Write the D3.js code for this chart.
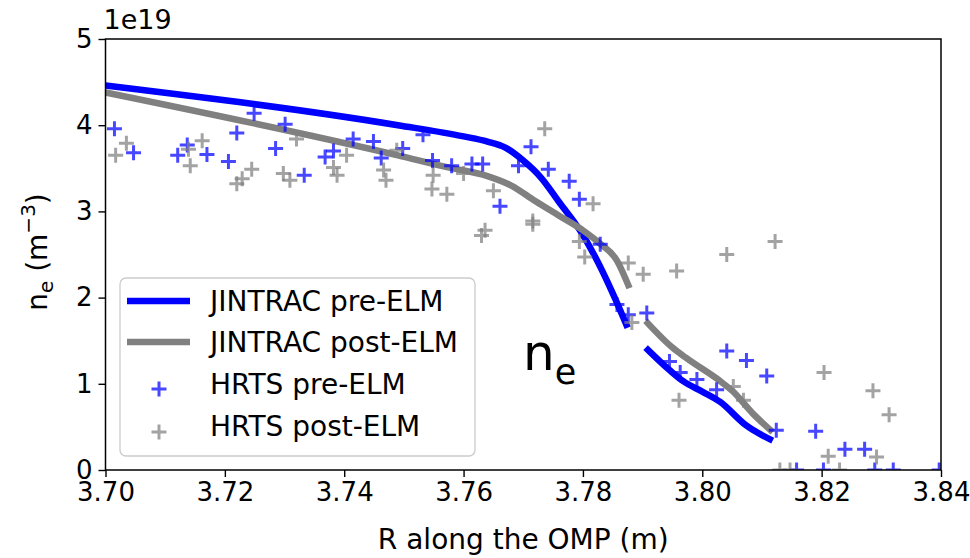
<!DOCTYPE html>
<html>
<head>
<meta charset="utf-8">
<script src="https://cdn.jsdelivr.net/npm/d3@7"></script>
<style>
  body { margin: 0; background: #ffffff; }
  svg { display: block; }
  text { font-family: "DejaVu Sans", sans-serif; fill: #000; }
</style>
</head>
<body>
<svg id="chart" width="970" height="558"></svg>
<script>
// Density profiles along the outer midplane, n_e in units of 1e19 m^-3.
// null splits a model curve into its two computed segments.
const xTicks = [3.70, 3.72, 3.74, 3.76, 3.78, 3.80, 3.82, 3.84];
const yTicks = [0, 1, 2, 3, 4, 5];

const jintracPre = [
  [3.700, 4.46], [3.7490, 4.00], [3.7600, 3.87], [3.7640, 3.81], [3.7670, 3.74],
  [3.7700, 3.59], [3.7730, 3.39], [3.7761, 3.10], [3.7795, 2.78], [3.7820, 2.48],
  [3.7850, 2.05], [3.7875, 1.65],
  null,
  [3.7905, 1.42], [3.7945, 1.16], [3.7968, 1.03], [3.8000, 0.91], [3.8030, 0.79],
  [3.8073, 0.52], [3.8118, 0.34]
];

const jintracPost = [
  [3.700, 4.38], [3.7490, 3.65], [3.7574, 3.51], [3.7640, 3.41], [3.7680, 3.30],
  [3.7720, 3.12], [3.7760, 2.95], [3.7800, 2.78], [3.7828, 2.63], [3.7856, 2.44],
  [3.7878, 2.11],
  null,
  [3.7905, 1.73], [3.7950, 1.42], [3.7973, 1.30], [3.8034, 1.01], [3.8050, 0.92],
  [3.8084, 0.66], [3.8118, 0.44]
];

const hrtsPre = [
  [3.7015, 3.96], [3.7047, 3.68], [3.7121, 3.65], [3.7137, 3.77], [3.7170, 3.66],
  [3.7206, 3.58], [3.7220, 3.91], [3.7249, 4.14], [3.7285, 3.73], [3.7301, 4.01],
  [3.7333, 3.42], [3.7368, 3.63], [3.7382, 3.70], [3.7415, 3.84], [3.7449, 3.81],
  [3.7462, 3.62], [3.7498, 3.73], [3.7532, 3.89], [3.7548, 3.59], [3.7580, 3.53],
  [3.7614, 3.55], [3.7632, 3.55], [3.7661, 3.06], [3.7692, 3.53], [3.7713, 3.75],
  [3.7742, 3.49], [3.7777, 3.35], [3.7794, 3.14], [3.7829, 2.62], [3.7857, 1.92],
  [3.7876, 1.80], [3.7907, 1.82], [3.7945, 1.26], [3.7963, 1.13], [3.7991, 1.05],
  [3.8024, 0.93], [3.8041, 1.38], [3.8074, 1.27], [3.8108, 1.09], [3.8124, 0.46],
  [3.8190, 0.45], [3.8239, 0.24], [3.8272, 0.24], [3.8158, 0.00], [3.8203, 0.00],
  [3.8289, 0.00], [3.8320, 0.00], [3.8397, 0.00]
];

const hrtsPost = [
  [3.7017, 3.65], [3.7035, 3.79], [3.7139, 3.72], [3.7142, 3.53], [3.7162, 3.82],
  [3.7220, 3.32], [3.7229, 3.38], [3.7245, 3.49], [3.7298, 3.44], [3.7309, 3.36],
  [3.7320, 3.84], [3.7382, 3.51], [3.7388, 3.42], [3.7404, 3.65], [3.7466, 3.48],
  [3.7470, 3.36], [3.7488, 3.71], [3.7549, 3.42], [3.7547, 3.26], [3.7572, 3.20],
  [3.7600, 3.44], [3.7630, 2.72], [3.7636, 2.78], [3.7650, 3.24], [3.7716, 2.89],
  [3.7716, 2.85], [3.7736, 3.96], [3.7794, 2.65], [3.7803, 2.47], [3.7817, 3.09],
  [3.7876, 2.40], [3.7901, 2.27], [3.7957, 2.31], [3.8041, 2.50], [3.7882, 1.71],
  [3.7961, 0.81], [3.8052, 0.97], [3.8069, 0.81], [3.8122, 2.65], [3.8204, 1.13],
  [3.8286, 0.92], [3.8313, 0.64], [3.8211, 0.16], [3.8292, 0.15], [3.8130, 0.00],
  [3.8147, 0.00], [3.8230, 0.00]
];

const legendLabels = ["JINTRAC pre-ELM", "JINTRAC post-ELM", "HRTS pre-ELM", "HRTS post-ELM"];

const colPreLine = "#0000ff";
const colPostLine = "#808080";
const colPrePts = "rgba(0,0,255,0.72)";
const colPostPts = "rgba(128,128,128,0.72)";

const W = 970, H = 558;
const margin = { left: 105.5, right: 29, top: 39, bottom: 88 };
const innerW = W - margin.left - margin.right;
const innerH = H - margin.top - margin.bottom;
const fs = 28;      // labels and legend
const tickFs = 26;  // tick labels

const svg = d3.select("#chart");
const x = d3.scaleLinear().domain([3.70, 3.84]).range([0, innerW]);
const y = d3.scaleLinear().domain([0, 5]).range([innerH, 0]);

const g = svg.append("g").attr("transform", `translate(${margin.left},${margin.top})`);

g.append("defs").append("clipPath").attr("id", "plotClip")
  .append("rect").attr("x", 0).attr("y", 0).attr("width", innerW).attr("height", innerH);

const plot = g.append("g").attr("clip-path", "url(#plotClip)");

const line = d3.line()
  .defined(d => d !== null)
  .x(d => x(d[0]))
  .y(d => y(d[1]))
  .curve(d3.curveMonotoneX);

plot.append("path").datum(jintracPre)
  .attr("d", line).attr("fill", "none")
  .attr("stroke", colPreLine).attr("stroke-width", 6.5);

plot.append("path").datum(jintracPost)
  .attr("d", line).attr("fill", "none")
  .attr("stroke", colPostLine).attr("stroke-width", 6.5);

const plusPath = "M-7.5,0H7.5M0,-7.5V7.5";

plot.append("g").selectAll("path").data(hrtsPre).join("path")
  .attr("d", plusPath)
  .attr("transform", d => `translate(${x(d[0])},${y(d[1])})`)
  .attr("stroke", colPrePts).attr("stroke-width", 3).attr("fill", "none");

plot.append("g").selectAll("path").data(hrtsPost).join("path")
  .attr("d", plusPath)
  .attr("transform", d => `translate(${x(d[0])},${y(d[1])})`)
  .attr("stroke", colPostPts).attr("stroke-width", 3).attr("fill", "none");

// Axes
const xAxis = d3.axisBottom(x).tickValues(xTicks).tickFormat(d3.format(".2f"))
  .tickSize(7).tickPadding(6);
const yAxis = d3.axisLeft(y).tickValues(yTicks).tickFormat(d3.format("d"))
  .tickSize(7).tickPadding(6);

const gx = g.append("g").attr("transform", `translate(0,${innerH})`).call(xAxis);
const gy = g.append("g").call(yAxis);
[gx, gy].forEach(ax => {
  ax.select(".domain").remove();
  ax.selectAll(".tick line").attr("stroke", "#000").attr("stroke-width", 1.4);
  ax.selectAll(".tick text").attr("font-size", tickFs)
    .attr("font-family", "'DejaVu Sans', sans-serif").attr("fill", "#000");
});

// Frame
g.append("rect").attr("x", 0).attr("y", 0).attr("width", innerW).attr("height", innerH)
  .attr("fill", "none").attr("stroke", "#000").attr("stroke-width", 1.5);

// Offset text above the y axis
svg.append("text").attr("x", margin.left - 2).attr("y", 29)
  .attr("font-size", tickFs + 1).text("1e19");

// Axis labels
svg.append("text").attr("x", margin.left + innerW / 2).attr("y", 549)
  .attr("text-anchor", "middle").attr("font-size", fs).text("R along the OMP (m)");

const yl = svg.append("text")
  .attr("transform", "translate(47,252) rotate(-90)")
  .attr("text-anchor", "middle").attr("font-size", fs);
yl.append("tspan").text("n");
yl.append("tspan").attr("font-size", 20).attr("dy", 6).text("e");
yl.append("tspan").attr("dy", -6).text(" (m");
yl.append("tspan").attr("font-size", 20).attr("dy", -12).text("\u22123");
yl.append("tspan").attr("dy", 12).text(")");

// In-plot annotation
const ann = svg.append("text").attr("x", 523).attr("y", 370)
  .attr("font-family", "'Liberation Sans', Arial, sans-serif").attr("font-size", 50);
ann.append("tspan").text("n");
ann.append("tspan").attr("font-size", 35).attr("dy", 14).text("e");

// Legend
const lg = svg.append("g");
lg.append("rect").attr("x", 120).attr("y", 278).attr("width", 355).attr("height", 178)
  .attr("rx", 6).attr("fill", "rgba(255,255,255,0.8)")
  .attr("stroke", "#cccccc").attr("stroke-width", 1.3);

const rowY = [301, 342, 384, 426];
lg.append("line").attr("x1", 127).attr("x2", 190).attr("y1", rowY[0]).attr("y2", rowY[0])
  .attr("stroke", colPreLine).attr("stroke-width", 6.5);
lg.append("line").attr("x1", 127).attr("x2", 190).attr("y1", rowY[1]).attr("y2", rowY[1])
  .attr("stroke", colPostLine).attr("stroke-width", 6.5);
lg.append("path").attr("d", plusPath).attr("transform", `translate(159,${rowY[2] + 5})`)
  .attr("stroke", colPrePts).attr("stroke-width", 3).attr("fill", "none");
lg.append("path").attr("d", plusPath).attr("transform", `translate(159,${rowY[3] + 6})`)
  .attr("stroke", colPostPts).attr("stroke-width", 3).attr("fill", "none");

lg.selectAll("text.lbl").data(legendLabels).join("text")
  .attr("class", "lbl")
  .attr("x", 210).attr("y", (d, i) => rowY[i] + 10)
  .attr("font-size", fs).text(d => d);
</script>
</body>
</html>
